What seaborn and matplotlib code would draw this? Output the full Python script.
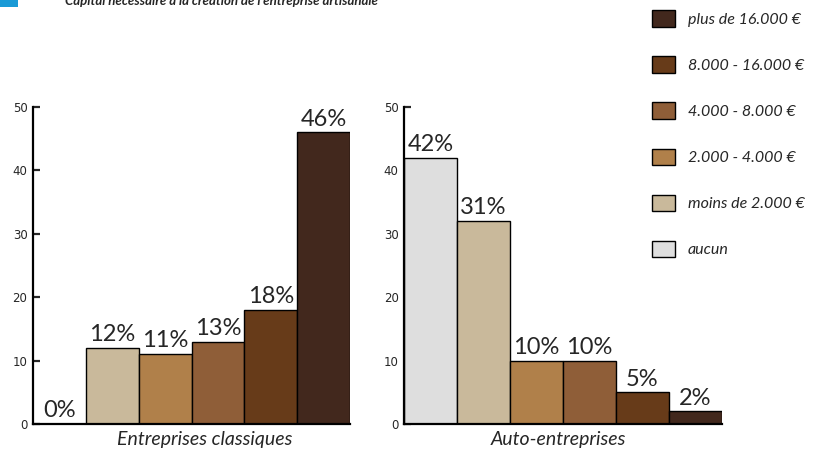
import matplotlib
matplotlib.use("Agg")
import matplotlib.pyplot as plt
import matplotlib.patches as mpatches
import pandas as pd
import seaborn as sns

# data
categories = ["aucun", "moins de 2.000 €", "2.000 - 4.000 €", "4.000 - 8.000 €",
              "8.000 - 16.000 €", "plus de 16.000 €"]
classiques = [0, 12, 11, 13, 18, 46]
classiques_labels = ["0%", "12%", "11%", "13%", "18%", "46%"]
auto = [42, 32, 10, 10, 5, 2]
auto_labels = ["42%", "31%", "10%", "10%", "5%", "2%"]
colors = ["#dedede", "#c9b99b", "#b0804a", "#8f5e38", "#673b19", "#42281d"]
title = "Capital nécessaire à la création de l'entreprise artisanale"

sns.set_style("white")
plt.rcParams["font.family"] = ["Lato", "DejaVu Sans"]

fig = plt.figure(figsize=(8.13, 4.5), dpi=100)
ax1 = fig.add_axes([0.0406, 0.0578, 0.39, 0.7044])
ax2 = fig.add_axes([0.497, 0.0578, 0.391, 0.7044])

panels = [(ax1, classiques, classiques_labels, "Entreprises classiques", 0.543),
          (ax2, auto, auto_labels, "Auto-entreprises", 0.484)]

for ax, vals, labs, name, lx in panels:
    df = pd.DataFrame({"cat": categories, "val": vals})
    sns.barplot(data=df, x="cat", y="val", hue="cat", palette=colors, saturation=1,
                width=1, edgecolor="black", linewidth=1, legend=False, ax=ax)
    for cont, lab in zip(ax.containers, labs):
        ax.bar_label(cont, labels=[lab], padding=2, fontsize=17)
    ax.set_ylim(0, 50)
    ax.set_xlim(-0.5, 5.5)
    ax.set_yticks([0, 10, 20, 30, 40, 50])
    ax.set_xticks([])
    ax.set_ylabel("")
    ax.set_xlabel(name, fontsize=14, style="italic")
    ax.xaxis.set_label_coords(lx, -0.022)
    ax.xaxis.label.set_va("top")
    sns.despine(ax=ax)
    for s in ["left", "bottom"]:
        ax.spines[s].set_linewidth(1.6)
        ax.spines[s].set_color("black")
    ax.tick_params(axis="y", left=True, direction="in", length=5, width=1.6, pad=4)
    for t in ax.get_yticklabels():
        t.set_fontfamily("DejaVu Sans")
        t.set_fontsize(8.5)

# legend, top entry is the biggest amount
handles = [mpatches.Patch(facecolor=c, edgecolor="black", linewidth=1, label=l)
           for c, l in zip(colors[::-1], categories[::-1])]
fig.legend(handles=handles, loc="upper left", bbox_to_anchor=(0.792, 0.995),
           frameon=False, borderpad=0, prop={"style": "italic", "size": 11.5},
           labelspacing=1.85, handlelength=1.45, handleheight=1.2, handletextpad=0.8)

fig.text(0.08, 0.989, title, fontsize=9.5, fontweight="bold", style="italic", va="baseline")
fig.patches.append(mpatches.Rectangle((0, 0.984), 0.022, 0.02, transform=fig.transFigure,
                                      facecolor="#1a9ad6", edgecolor="none"))

fig.savefig("out.png", dpi=100)
